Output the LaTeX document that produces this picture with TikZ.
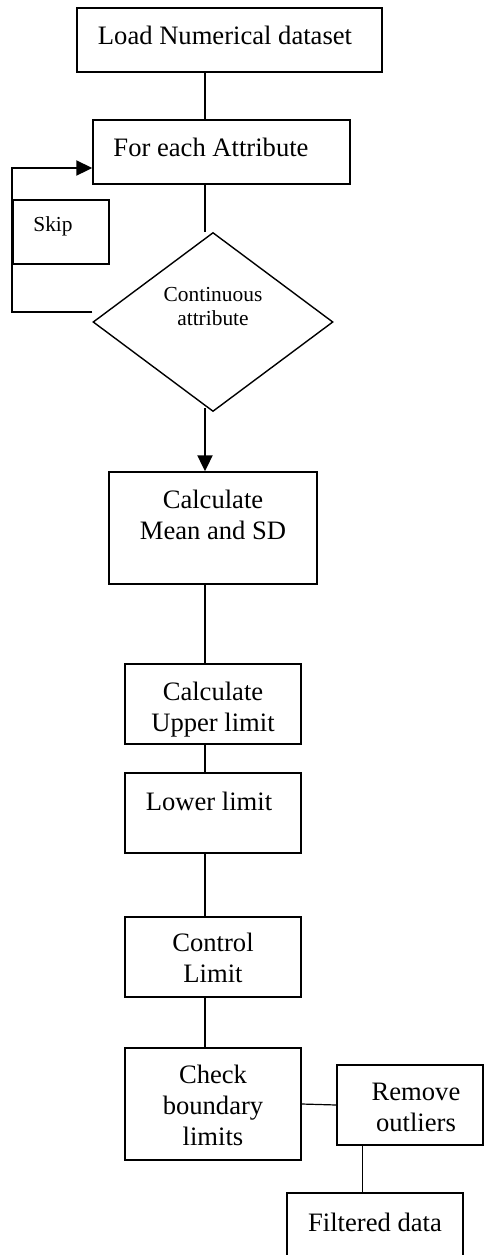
\documentclass[tikz,border=0pt]{standalone}
\usepackage{fontspec}
\setmainfont{Liberation Serif}
\usetikzlibrary{arrows.meta,shapes.geometric}

\begin{document}
\begin{tikzpicture}[x=0.5pt,y=-0.5pt,
    box/.style={draw,line width=0.7pt,inner sep=0pt},
    txt/.style={anchor=north,align=center,inner sep=0pt,font=\fontsize{13.3}{15.5}\selectfont},
    smalltxt/.style={anchor=north,align=center,inner sep=0pt,font=\fontsize{10.7}{12.2}\selectfont},
    flow/.style={line width=0.6pt},
    flowarrow/.style={line width=1pt,-{Triangle[length=8pt,width=7.5pt]}}]
    \useasboundingbox (0,0) rectangle (484,1255);
    \clip (0,0) rectangle (484,1255);
    \coordinate (spine) at (205,0);
    % boxes
    \node[box,minimum width=152.5pt,minimum height=32pt,
      label={[txt,xshift=-2.25pt,yshift=-9pt]north:Load Numerical dataset}] (load) at (229.5,40) {};
    \node[box,minimum width=128.5pt,minimum height=32pt,
      label={[txt,xshift=-5.25pt,yshift=-9pt]north:For each Attribute}] (each) at (221.5,152) {};
    \node[box,minimum width=48pt,minimum height=32pt,
      label={[smalltxt,xshift=-4pt,yshift=-8.5pt]north:Skip}] (skip) at (61,232) {};
    \node[box,diamond,minimum width=120pt,minimum height=89.5pt,
      label={[smalltxt,yshift=-27.5pt]north:Continuous\\attribute}] (cont) at (213,322) {};
    \node[box,minimum width=104pt,minimum height=56pt,
      label={[txt,yshift=-9pt]north:Calculate\\Mean and SD}] (mean) at (213,528) {};
    \node[box,minimum width=88pt,minimum height=40pt,
      label={[txt,yshift=-9pt]north:Calculate\\Upper limit}] (upper) at (213,704) {};
    \node[box,minimum width=88pt,minimum height=40pt,
      label={[txt,xshift=-2pt,yshift=-9.5pt]north:Lower limit}] (lower) at (213,813) {};
    \node[box,minimum width=88pt,minimum height=40pt,
      label={[txt,yshift=-8pt]north:Control\\Limit}] (ctrl) at (213,957) {};
    \node[box,minimum width=88pt,minimum height=56pt,
      label={[txt,yshift=-8.5pt]north:Check\\boundary\\limits}] (check) at (213,1104) {};
    \node[box,minimum width=73pt,minimum height=40pt,
      label={[txt,xshift=3pt,yshift=-9pt]north:Remove\\outliers}] (remove) at (410,1105) {};
    \node[box,minimum width=88pt,minimum height=40pt,
      label={[txt,yshift=-10pt]north:Filtered data}] (filtered) at (375,1233) {};
    % connectors
    \draw[flow] (load.south -| spine) -- (each.north -| spine);
    \draw[flow] (each.south -| spine) -- (cont.north -| spine);
    \draw[flowarrow] ([yshift=2pt]cont.south -| spine) -- (mean.north -| spine);
    \coordinate (loopA) at ([yshift=5pt]cont.west);
    \coordinate (loopB) at ([yshift=-8pt]each.west);
    \draw[flowarrow] (loopA) -- (loopA -| skip.west) -- (loopB -| skip.west) -- (loopB);
    \draw[flow] (mean.south -| spine) -- (upper.north -| spine);
    \draw[flow] (upper.south -| spine) -- (lower.north -| spine);
    \draw[flow] (lower.south -| spine) -- (ctrl.north -| spine);
    \draw[flow] (ctrl.south -| spine) -- (check.north -| spine);
    \draw[flow] (check.east) -- (remove.west);
    \coordinate (rf) at ([xshift=13pt]remove.south west);
    \draw[flow] (rf) -- (rf |- filtered.north);
\end{tikzpicture}
\end{document}
